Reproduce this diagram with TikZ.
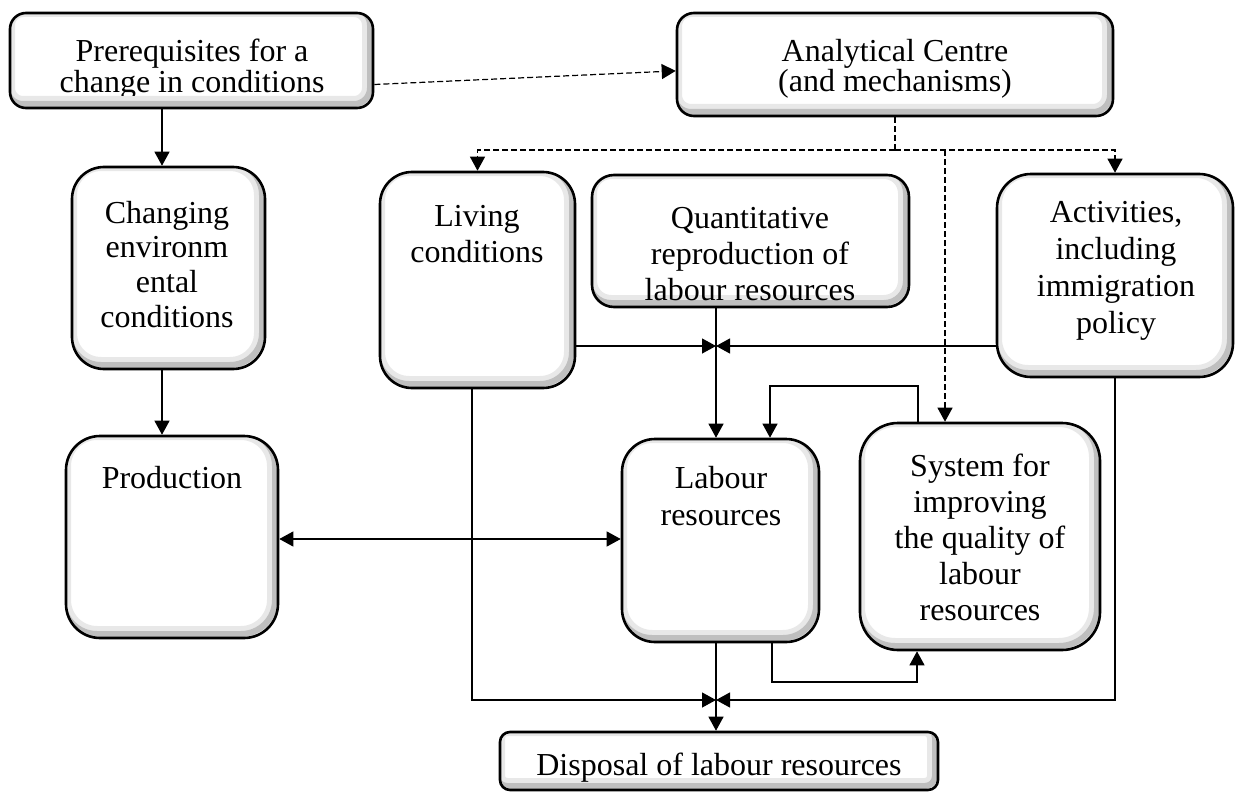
\documentclass[tikz,border=0pt]{standalone}
\usepackage{fontspec}
\setmainfont{Liberation Serif}
\usetikzlibrary{arrows.meta, fit}
\tikzset{
  lrbox/.style={draw, line width=1.3pt, fill=white, rounded corners=#1, inner sep=0pt,
    path picture={
      \draw[gray!18, line width=8pt, rounded corners=#1]
        ([shift={(-1.5pt,2pt)}]path picture bounding box.south west) rectangle
        ([shift={(-1.5pt,2pt)}]path picture bounding box.north east);
      \draw[gray!50, line width=3pt, rounded corners=#1]
        ([shift={(-1.5pt,2pt)}]path picture bounding box.south west) rectangle
        ([shift={(-1.5pt,2pt)}]path picture bounding box.north east);
    }},
  lrtext/.style={align=center, inner sep=0pt, anchor=base, font=\fontsize{16}{18}\selectfont},
  lrtight/.style={lrtext, font=\fontsize{16}{14.5}\selectfont},
  lrline/.style={line width=0.6pt},
  lrarrow/.style={lrline, -{Triangle[length=7pt, width=7.5pt]}},
  lrboth/.style={lrline, {Triangle[length=7pt, width=7.5pt]}-{Triangle[length=7pt, width=7.5pt]}},
  lrdash/.style={lrarrow, dash pattern=on 3pt off 1.5pt},
}
\begin{document}
\begin{tikzpicture}[x=0.5pt, y=-0.5pt]
  \useasboundingbox (0,0) rectangle (1236,792);

  % Boxes
  \node[lrbox=8pt, fit={(10,13) (373,108)}] (prq) {};
  \node[lrbox=8.5pt, fit={(677,13) (1113,116)}] (ana) {};
  \node[lrbox=16pt, fit={(72,167) (265,369)}] (chg) {};
  \node[lrbox=17pt, fit={(66,436) (278,638)}] (prd) {};
  \node[lrbox=16pt, fit={(380,172) (575,388)}] (liv) {};
  \node[lrbox=11pt, fit={(592,175) (909,307)}] (qnt) {};
  \node[lrbox=17pt, fit={(997,174) (1233,377)}] (act) {};
  \node[lrbox=16.5pt, fit={(622,439) (819,642)}] (lab) {};
  \node[lrbox=19pt, fit={(860,423) (1100,650)}] (sys) {};
  \node[lrbox=5pt, fit={(500,732) (938,790)}] (dsp) {};

  % Texts (anchored at the baseline of the last line)
  \begin{scope}
    \clip (10,13) rectangle (373,96);
    \node[lrtight] (prq-t) at (192,93) {Prerequisites for a\\change in conditions};
  \end{scope}
  \node[lrtight, font=\fontsize{16}{15}\selectfont] (ana-t) at (895,91) {Analytical Centre\\(and mechanisms)};
  \node[lrtext, font=\fontsize{16}{17.3}\selectfont] (chg-t) at (167,327) {Changing\\environm\\ental\\conditions};
  \node[lrtext] (prd-t) at (172,488) {Production};
  \node[lrtext] (liv-t) at (477,262) {Living\\conditions};
  \node[lrtext] (qnt-t) at (750,300) {Quantitative\\reproduction of\\labour resources};
  \node[lrtext, font=\fontsize{16}{18.5}\selectfont] (act-t) at (1116,333) {Activities,\\including\\immigration\\policy};
  \node[lrtext, font=\fontsize{16}{18.5}\selectfont] (lab-t) at (721,525) {Labour\\resources};
  \node[lrtext] (sys-t) at (980,620) {System for\\improving\\the quality of\\labour\\resources};
  \node[lrtext] (dsp-t) at (719,775) {Disposal of labour resources};

  % Junctions and bends
  \coordinate (jtop) at (716,346);
  \coordinate (jbot) at (716,700);
  \coordinate (dsh) at (895,150);
  \coordinate (sysd) at (945,150);
  \coordinate (lpR) at (918,386);
  \coordinate (lpL) at (770,386);
  \coordinate (lbL) at (772,682);
  \coordinate (lbR) at (917,682);
  \coordinate (livd) at (472,700);

  % Dashed links from the centre
  \draw[lrdash] ([yshift=-12pt]prq.east) -- ([yshift=-3.2pt]ana.west);
  \draw[lrline, dash pattern=on 3pt off 1.5pt] (ana.south) -- (dsh);
  \draw[lrdash] (dsh) -- (dsh -| liv.north) -- (liv.north);
  \draw[lrdash] (dsh) -- (dsh -| act.north) -- (act.north);
  \draw[lrdash] (sysd) -- (sys.north -| sysd);

  % Solid links
  \draw[lrarrow] (prq.south -| 162,0) -- (chg.north -| 162,0);
  \draw[lrarrow] (chg.south -| 162,0) -- (prd.north -| 162,0);
  \draw[lrboth] (prd.east |- 0,539) -- (lab.west |- 0,539);
  \draw[lrarrow] (liv.east |- jtop) -- (jtop);
  \draw[lrarrow] (act.west |- jtop) -- (jtop);
  \draw[lrarrow] (qnt.south -| jtop) -- (lab.north -| jtop);
  \draw[lrarrow] (sys.north -| lpR) -- (lpR) -- (lpL) -- (lab.north -| lpL);
  \draw[lrarrow] (lab.south -| lbL) -- (lbL) -- (lbR) -- (sys.south -| lbR);
  \draw[lrarrow] (liv.south -| livd) -- (livd) -- (jbot);
  \draw[lrarrow] (act.south) -- (act.south |- jbot) -- (jbot);
  \draw[lrarrow] (lab.south -| jbot) -- (dsp.north -| jbot);
\end{tikzpicture}
\end{document}
